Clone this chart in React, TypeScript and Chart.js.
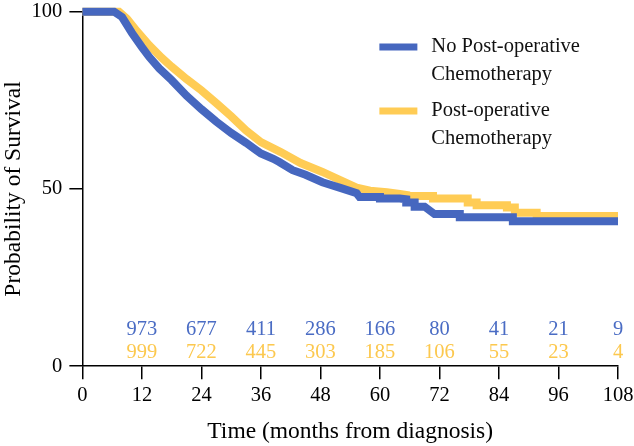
import React, { useEffect, useRef } from "react";
import { Chart, registerables } from "chart.js";

Chart.register(...registerables);

const BLUE = "#4667BF";
const YELLOW = "#FFCC55";
const BLUE_TEXT = "#4A6CC4";
const YELLOW_TEXT = "#FCC84E";

const seriesLabels = ["No Post-operative Chemotherapy", "Post-operative Chemotherapy"];
const legendLinesBlue = ["No Post-operative", "Chemotherapy"];
const legendLinesYellow = ["Post-operative", "Chemotherapy"];

const monthsNoChemo = [0, 6.4, 8, 10, 12, 13.5, 15.5, 18, 21, 24, 27, 30, 33, 35, 36, 38.5, 39.7, 42.4, 45, 48.4, 52, 55.3, 55.9, 60, 60, 64, 65.3, 65.3, 67, 67, 69, 71, 76.1, 76.1, 86.8, 86.8, 108];
const survNoChemo = [100, 100, 98.5, 94, 90, 87.2, 84, 80.7, 76.3, 72.5, 69, 65.8, 63, 61, 60, 58.5, 57.6, 55.3, 54, 51.9, 50.3, 48.8, 47.7, 47.7, 47.3, 47.3, 47.1, 46.2, 46.2, 45.0, 45.0, 42.9, 42.9, 42.0, 42.0, 40.9, 40.9];

const monthsChemo = [0, 7.4, 9, 11, 13.5, 16, 18, 21, 24, 27, 30, 33, 36, 40, 44, 48.4, 52, 55.3, 58, 61.4, 64, 65.3, 65.3, 70.7, 70.7, 77.7, 77.7, 79.5, 79.5, 85.6, 85.6, 87.2, 87.2, 91.6, 91.6, 108];
const survChemo = [100, 100, 98, 94.5, 90.5, 87, 84.5, 81, 77.8, 74.2, 70.5, 66.5, 63.2, 60.4, 57.3, 54.8, 52.5, 50.4, 49.5, 49.1, 48.6, 48.3, 48.0, 48.0, 47.3, 47.3, 46.2, 46.2, 45.4, 45.4, 44.8, 44.8, 43.3, 43.3, 42.4, 42.4];

const riskMonths = [12, 24, 36, 48, 60, 72, 84, 96, 108];
const riskNoChemo = [973, 677, 411, 286, 166, 80, 41, 21, 9];
const riskChemo = [999, 722, 445, 303, 185, 106, 55, 23, 4];
const riskRowLevels = [10.4, 3.95];

const FONT = "'Liberation Serif', 'Times New Roman', serif";

const toPoints = (xs: number[], ys: number[]) => xs.map((x, i) => ({ x, y: ys[i] }));

const overlayPlugin = {
  id: "overlay",
  afterDatasetsDraw(chart: any) {
    const { ctx, scales, chartArea } = chart;
    const xs = scales.x;
    const ys = scales.y;
    ctx.save();
    ctx.font = `20.5px ${FONT}`;
    ctx.textAlign = "center";
    ctx.textBaseline = "middle";
    riskMonths.forEach((m, i) => {
      const px = xs.getPixelForValue(m);
      ctx.fillStyle = BLUE_TEXT;
      ctx.fillText(String(riskNoChemo[i]), px, ys.getPixelForValue(riskRowLevels[0]));
      ctx.fillStyle = YELLOW_TEXT;
      ctx.fillText(String(riskChemo[i]), px, ys.getPixelForValue(riskRowLevels[1]));
    });

    // legend
    const lx = chartArea.left + 297;
    const lineW = 38;
    const tx = lx + 52;
    const entries = [
      { color: BLUE, lines: legendLinesBlue, y: 47 },
      { color: YELLOW, lines: legendLinesYellow, y: 111 },
    ];
    ctx.textAlign = "left";
    entries.forEach((e) => {
      ctx.fillStyle = e.color;
      ctx.fillRect(lx, e.y - 3.5, lineW, 7);
      ctx.fillStyle = "#111";
      e.lines.forEach((t, j) => ctx.fillText(t, tx, e.y + j * 28));
    });
    ctx.restore();
  },
};

export default function App() {
  const ref = useRef<HTMLCanvasElement>(null);
  useEffect(() => {
    document.body.style.margin = "0";
    const chart = new Chart(ref.current as HTMLCanvasElement, {
      type: "line",
      data: {
        datasets: [
          {
            label: seriesLabels[0],
            data: toPoints(monthsNoChemo, survNoChemo),
            borderColor: BLUE,
            backgroundColor: BLUE,
            borderWidth: 8,
            pointRadius: 0,
            borderJoinStyle: "miter",
            borderCapStyle: "butt",
            tension: 0,
            clip: false as any,
          },
          {
            label: seriesLabels[1],
            data: toPoints(monthsChemo, survChemo),
            borderColor: YELLOW,
            backgroundColor: YELLOW,
            borderWidth: 8,
            pointRadius: 0,
            borderJoinStyle: "miter",
            borderCapStyle: "butt",
            tension: 0,
            clip: false as any,
          },
        ],
      },
      options: {
        responsive: false,
        animation: false,
        layout: { padding: 0 },
        plugins: { legend: { display: false }, tooltip: { enabled: false } },
        scales: {
          x: {
            type: "linear",
            min: 0,
            max: 108,
            grid: { display: true, drawOnChartArea: false, drawTicks: true, tickLength: 13, color: "#000", lineWidth: 1.5 },
            border: { display: true, color: "#000", width: 1.5 },
            ticks: { stepSize: 12, color: "#000", font: { family: FONT, size: 20.5 }, padding: 4, maxRotation: 0 },
            title: { display: true, text: "Time (months from diagnosis)", color: "#000", font: { family: FONT, size: 23.5 }, padding: { top: 6, bottom: 0 } },
            afterFit: (s: any) => {
              s.paddingRight = 16;
            },
          },
          y: {
            type: "linear",
            min: 0,
            max: 100,
            grid: { display: true, drawOnChartArea: false, drawTicks: true, tickLength: 13, color: "#000", lineWidth: 1.5 },
            border: { display: true, color: "#000", width: 1.5 },
            ticks: { stepSize: 50, color: "#000", font: { family: FONT, size: 20.5 }, padding: 7 },
            title: { display: true, text: "Probability of Survival", color: "#000", font: { family: FONT, size: 23.5, lineHeight: 0.92 }, padding: { top: 3, bottom: 0 } },
            afterFit: (s: any) => {
              s.paddingTop = 11.7;
            },
          },
        },
      },
      plugins: [overlayPlugin],
    });
    return () => chart.destroy();
  }, []);
  return <canvas ref={ref} width={634} height={446} style={{ display: "block" }} />;
}
